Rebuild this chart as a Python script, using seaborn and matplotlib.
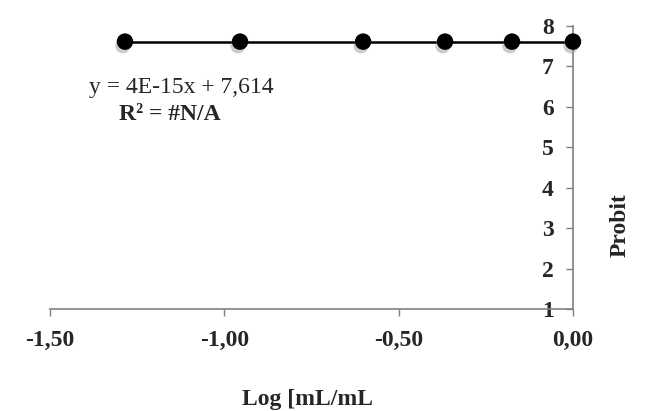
import matplotlib
matplotlib.use("Agg")
import matplotlib.pyplot as plt
import matplotlib.patheffects as pe
import numpy as np
import pandas as pd
import seaborn as sns

# data
log_conc = [-1.285, -0.955, -0.602, -0.367, -0.175, 0.0]
probit = [7.614, 7.614, 7.614, 7.614, 7.614, 7.614]
x_ticks = [-1.5, -1.0, -0.5, 0.0]
x_tick_labels = ["-1,50", "-1,00", "-0,50", "0,00"]
y_ticks = [1, 2, 3, 4, 5, 6, 7, 8]
equation = "y = 4E-15x + 7,614"
r2_text = "R² = #N/A"

df = pd.DataFrame({"log": log_conc, "probit": probit})

sns.set_style("white")
plt.rcParams["font.family"] = ["Liberation Serif", "DejaVu Serif"]
FS = 17

fig = plt.figure(figsize=(6.48, 4.11), dpi=100)
ax = fig.add_axes([50 / 648, 1 - 309 / 411, 523 / 648, 283 / 411])

# trend line
sns.lineplot(data=df, x="log", y="probit", color="black", linewidth=1.8, ax=ax)
# markers with soft shadow
sns.scatterplot(data=df, x="log", y="probit", color="black", s=120, edgecolor="black",
                zorder=5, clip_on=False, ax=ax,
                path_effects=[pe.SimplePatchShadow(offset=(-1.5, -3), shadow_rgbFace="gray", alpha=0.4),
                              pe.Normal()])

# axes cross at x = 0 (y axis drawn there), spine moved before tick styling
ax.spines["top"].set_visible(False)
ax.spines["right"].set_visible(False)
ax.spines["left"].set_position(("data", 0))
for s in ["left", "bottom"]:
    ax.spines[s].set_color("#808080")
    ax.spines[s].set_linewidth(1.2)

ax.set_xlim(-1.5, 0)
ax.set_ylim(1, 8)
ax.set_xticks(x_ticks)
ax.set_xticklabels(x_tick_labels, fontweight="bold", fontsize=FS)
ax.set_yticks(y_ticks)
ax.set_yticklabels([str(v) for v in y_ticks], fontweight="bold", fontsize=FS)

ax.tick_params(axis="both", which="both", direction="out", length=5, width=1,
               color="#808080", left=True, bottom=True)
ax.tick_params(axis="x", pad=10)
ax.tick_params(axis="y", pad=9)

ax.set_xlabel("")
ax.set_ylabel("")
fig.text(308 / 648, 1 - 399 / 411, "Log [mL/mL", ha="center", va="center",
         fontsize=FS, fontweight="bold")
fig.text(620 / 648, 1 - 225 / 411, "Probit", ha="center", va="center",
         rotation=90, fontsize=FS, fontweight="bold")

ax.text(181 / 648, 1 - 88 / 411, equation, transform=fig.transFigure,
        ha="center", va="center", fontsize=FS)
ax.text(170 / 648, 1 - 114 / 411, r2_text, transform=fig.transFigure,
        ha="center", va="center", fontsize=FS, fontweight="bold")

fig.savefig("out.png", dpi=100)
